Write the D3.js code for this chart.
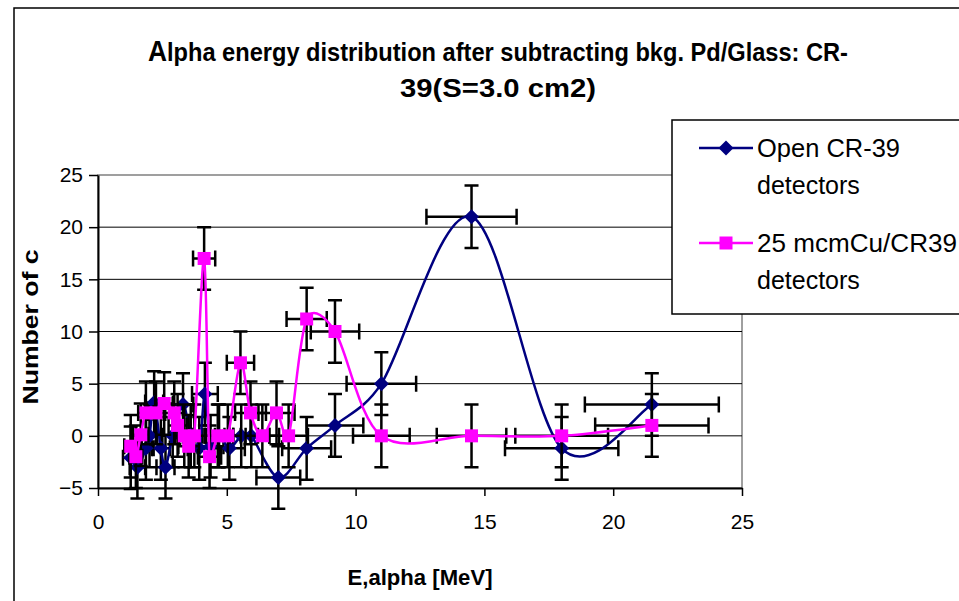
<!DOCTYPE html>
<html>
<head>
<meta charset="utf-8">
<script src="https://cdn.jsdelivr.net/npm/d3@7"></script>
<style>
body { margin: 0; background: #fff; }
svg text { font-family: "Liberation Sans", Arial, sans-serif; }
</style>
</head>
<body>
<div id="chart"></div>
<script>
//data
var openX    = [1.27, 1.53, 1.86, 2.0, 2.18, 2.44, 2.62, 2.9, 3.3, 3.6, 3.93, 4.15, 4.37, 4.7, 5.1, 5.56, 5.95, 7.0, 8.1, 9.2, 11.0, 14.5, 18.0, 21.5];
var openY    = [-2.1, -3.0, -1.2, 0.0, 3.2, -1.2, -3.0, 0.0, 3.0, 0.0, -1.2, 4.0, -1.0, 0.0, -1.2, 0.0, 0.0, -4.0, -1.2, 1.0, 5.0, 21.0, -1.2, 3.0];
var openXErr = [0.3, 0.3, 0.3, 0.3, 0.35, 0.35, 0.35, 0.4, 0.4, 0.45, 0.45, 0.5, 0.5, 0.55, 0.6, 0.65, 0.7, 0.85, 0.95, 1.1, 1.35, 1.75, 2.2, 2.6];
var openYErr = [3, 3, 3, 3, 3, 3, 3, 3, 3, 3, 3, 3, 3, 3, 3, 3, 3, 3, 3, 3, 3, 3, 3, 3];

var cuX    = [1.27, 1.47, 1.66, 1.86, 2.25, 2.57, 2.96, 3.09, 3.35, 3.52, 3.74, 4.12, 4.33, 4.65, 5.04, 5.53, 5.92, 6.38, 6.93, 7.4, 8.1, 9.2, 11.0, 14.5, 18.0, 21.5];
var cuY    = [-1.0, -2.0, 0.1, 2.2, 2.2, 3.1, 2.2, 1.0, 0.0, -1.0, 0.0, 17.0, -2.0, 0.0, 0.0, 7.0, 2.2, 0.0, 2.2, 0.0, 11.2, 10.0, 0.0, 0.0, 0.0, 1.0];
var cuXErr = [0.25, 0.25, 0.3, 0.3, 0.3, 0.35, 0.35, 0.35, 0.35, 0.4, 0.4, 0.43, 0.45, 0.45, 0.5, 0.53, 0.6, 0.65, 0.7, 0.75, 0.78, 0.94, 1.1, 1.35, 1.8, 2.2];
var cuYErr = [3, 3, 3, 3, 3, 3, 3, 3, 3, 3, 3, 3, 3, 3, 3, 3, 3, 3, 3, 3, 3, 3, 3, 3, 3, 3];

var xTicks = [0, 5, 10, 15, 20, 25];
var yTicks = [-5, 0, 5, 10, 15, 20, 25];
var seriesNames = ["Open CR-39", "25 mcmCu/CR39"];

// plot area box (pixels)
var plot = {left: 98, right: 742, top: 175, bottom: 488};

var svg = d3.select("#chart")
    .append("svg")
    .attr("width", 959)
    .attr("height", 601);

// chart frame, runs off the right and bottom of the picture
svg.append("rect")
    .attr("x", 14).attr("y", 8)
    .attr("width", 1000).attr("height", 700)
    .attr("fill", "white")
    .attr("stroke", "black")
    .attr("stroke-width", 1.5);

var x = d3.scaleLinear().domain([0, 25]).range([plot.left, plot.right]);
var y = d3.scaleLinear().domain([-5, 25]).range([plot.bottom, plot.top]);

// plot area border
svg.append("rect")
    .attr("x", plot.left).attr("y", plot.top)
    .attr("width", plot.right - plot.left)
    .attr("height", plot.bottom - plot.top)
    .attr("fill", "none")
    .attr("stroke", "#808080")
    .attr("stroke-width", 1.5);

// horizontal gridlines
svg.selectAll("gridline")
    .data(yTicks.slice(1, -1))
    .enter()
    .append("line")
    .attr("x1", plot.left).attr("x2", plot.right)
    .attr("y1", function(d){ return y(d); })
    .attr("y2", function(d){ return y(d); })
    .attr("stroke", "black")
    .attr("stroke-width", 1);

// axes
var xAxis = svg.append("g")
    .attr("transform", "translate(0," + plot.bottom + ")")
    .call(d3.axisBottom(x).tickValues(xTicks).tickSize(8).tickSizeOuter(0).tickPadding(18));
var yAxis = svg.append("g")
    .attr("transform", "translate(" + plot.left + ",0)")
    .call(d3.axisLeft(y).tickValues(yTicks).tickSize(9).tickSizeOuter(0).tickPadding(6));

[xAxis, yAxis].forEach(function(a){
    a.select(".domain").attr("stroke", "black").attr("stroke-width", 2);
    a.selectAll(".tick line").attr("stroke", "black").attr("stroke-width", 1.5);
    a.selectAll("text")
        .style("font-family", "'Liberation Sans', Arial, sans-serif")
        .style("font-size", "21px")
        .attr("fill", "black");
});

//smoothed line the way the spreadsheet does it: bezier with 1/6 tangents,
//shortened when the segment is short compared to its neighbours
function smoothPath(pts){
    var p = pts.map(function(d){ return [x(d.x), y(d.y)]; });
    var dist = function(a, b){ return Math.hypot(b[0] - a[0], b[1] - a[1]); };
    var s = "M" + p[0][0] + "," + p[0][1];
    for (var i = 0; i < p.length - 1; i++){
        var p0 = p[i > 0 ? i - 1 : i], p1 = p[i], p2 = p[i + 1], p3 = p[i + 2 < p.length ? i + 2 : i + 1];
        var d02 = dist(p0, p2), d12 = dist(p1, p2), d13 = dist(p1, p3);
        var f1 = (d02 / 6 < d12 / 2 || d02 == 0) ? 1 / 6 : d12 / (2 * d02);
        var f2 = (d13 / 6 < d12 / 2 || d13 == 0) ? 1 / 6 : d12 / (2 * d13);
        var b1 = [p1[0] + f1 * (p2[0] - p0[0]), p1[1] + f1 * (p2[1] - p0[1])];
        var b2 = [p2[0] - f2 * (p3[0] - p1[0]), p2[1] - f2 * (p3[1] - p1[1])];
        s += "C" + b1[0] + "," + b1[1] + " " + b2[0] + "," + b2[1] + " " + p2[0] + "," + p2[1];
    }
    return s;
}

//one series: error bars, smoothed line, markers
function drawSeries(xs, ys, xe, ye, color, marker){
    var pts = xs.map(function(d, i){ return {x: d, y: ys[i], ex: xe[i], ey: ye[i]}; });
    var g = svg.append("g");
    var cap = 7;

    pts.forEach(function(p){
        var px = x(p.x), py = y(p.y);
        var y0 = y(p.y - p.ey), y1 = y(p.y + p.ey);
        var x0 = x(p.x - p.ex), x1 = x(p.x + p.ex);
        var path = "M" + px + "," + y0 + "V" + y1 +
            "M" + (px - cap) + "," + y0 + "H" + (px + cap) +
            "M" + (px - cap) + "," + y1 + "H" + (px + cap) +
            "M" + x0 + "," + py + "H" + x1 +
            "M" + x0 + "," + (py - cap - 1) + "V" + (py + cap + 1) +
            "M" + x1 + "," + (py - cap - 1) + "V" + (py + cap + 1);
        g.append("path")
            .attr("d", path)
            .attr("fill", "none")
            .attr("stroke", "black")
            .attr("stroke-width", 2.5);
    });

    g.append("path")
        .attr("d", smoothPath(pts))
        .attr("fill", "none")
        .attr("stroke", color)
        .attr("stroke-width", 2.5);

    g.selectAll("marker")
        .data(pts)
        .enter()
        .append("path")
        .attr("d", function(d){ return markerPath(marker, x(d.x), y(d.y)); })
        .attr("fill", color);
}

function markerPath(kind, cx, cy){
    if (kind == "diamond"){
        var r = 7.5;
        return "M" + cx + "," + (cy - r) + "L" + (cx + r) + "," + cy + "L" + cx + "," + (cy + r) + "L" + (cx - r) + "," + cy + "Z";
    }
    var s = 6.5;
    return "M" + (cx - s) + "," + (cy - s) + "h" + (2 * s) + "v" + (2 * s) + "h" + (-2 * s) + "Z";
}

drawSeries(openX, openY, openXErr, openYErr, "#000080", "diamond");
drawSeries(cuX, cuY, cuXErr, cuYErr, "#FF00FF", "square");

// title, the first letter comes out a bit bigger in the original
var title1 = svg.append("text")
    .attr("x", 498).attr("y", 61)
    .attr("text-anchor", "middle")
    .attr("textLength", 700)
    .attr("lengthAdjust", "spacingAndGlyphs")
    .style("font-size", "26px")
    .style("font-weight", "bold");
title1.append("tspan").style("font-size", "29px").text("A");
title1.append("tspan").text("lpha energy  distribution after subtracting bkg. Pd/Glass: CR-");
svg.append("text")
    .attr("x", 498).attr("y", 97)
    .attr("text-anchor", "middle")
    .attr("textLength", 196)
    .attr("lengthAdjust", "spacingAndGlyphs")
    .style("font-size", "26px")
    .style("font-weight", "bold")
    .text("39(S=3.0 cm2)");

// axis titles
svg.append("text")
    .attr("transform", "translate(38,327) rotate(-90)")
    .attr("text-anchor", "middle")
    .attr("textLength", 155)
    .attr("lengthAdjust", "spacingAndGlyphs")
    .style("font-size", "22px")
    .style("font-weight", "bold")
    .text("Number of c");
svg.append("text")
    .attr("x", 420).attr("y", 585)
    .attr("text-anchor", "middle")
    .attr("textLength", 145)
    .attr("lengthAdjust", "spacingAndGlyphs")
    .style("font-size", "22px")
    .style("font-weight", "bold")
    .text("E,alpha [MeV]");

// legend
var legend = svg.append("g");
legend.append("rect")
    .attr("x", 672).attr("y", 120)
    .attr("width", 300).attr("height", 194)
    .attr("fill", "white")
    .attr("stroke", "black")
    .attr("stroke-width", 1.5);

var legendColors = ["#000080", "#FF00FF"];
var legendMarkers = ["diamond", "square"];
var legendY = [148, 243];
seriesNames.forEach(function(name, i){
    legend.append("line")
        .attr("x1", 699).attr("x2", 753)
        .attr("y1", legendY[i]).attr("y2", legendY[i])
        .attr("stroke", legendColors[i])
        .attr("stroke-width", 2.5);
    legend.append("path")
        .attr("d", markerPath(legendMarkers[i], 726, legendY[i]))
        .attr("fill", legendColors[i]);
    legend.append("text")
        .attr("x", 757).attr("y", legendY[i] + 9)
        .attr("textLength", legendY[i] == 148 ? 143 : 200)
        .attr("lengthAdjust", "spacingAndGlyphs")
        .style("font-size", "25px")
        .text(name);
    legend.append("text")
        .attr("x", 757).attr("y", legendY[i] + 46)
        .style("font-size", "25px")
        .text("detectors");
});
</script>
</body>
</html>
